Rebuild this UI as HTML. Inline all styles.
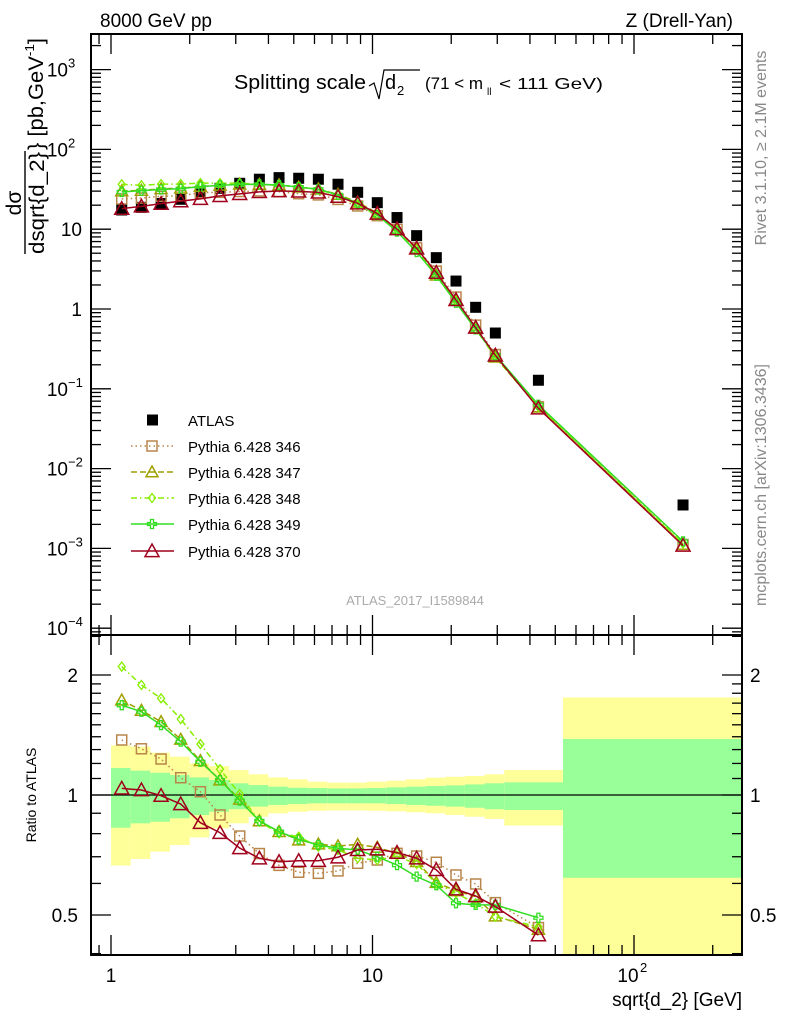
<!DOCTYPE html>
<html><head><meta charset="utf-8"><style>
body{margin:0;background:#fff}
svg{display:block;font-family:"Liberation Sans",sans-serif}
</style></head><body>
<svg id="c" width="786" height="1024" viewBox="0 0 786 1024" xmlns="http://www.w3.org/2000/svg">
<text x="100" y="27" font-size="19">8000 GeV pp</text>
<text x="733" y="27" font-size="19" text-anchor="end">Z (Drell-Yan)</text>
<text transform="translate(766,148) rotate(-90)" font-size="16" fill="#888" text-anchor="middle">Rivet 3.1.10, ≥ 2.1M events</text>
<text transform="translate(766,485) rotate(-90)" font-size="16" fill="#888" text-anchor="middle">mcplots.cern.ch [arXiv:1306.3436]</text>
<g>
<text x="234" y="89" font-size="20" textLength="132" lengthAdjust="spacingAndGlyphs">Splitting scale</text>
<path d="M369,86 L374,83 L379,99 L384,70 L420,70" fill="none" stroke="#000" stroke-width="1.2"/>
<text x="385" y="89" font-size="20">d</text><text x="397" y="95" font-size="13">2</text>
<text x="425" y="89" font-size="17" textLength="58" lengthAdjust="spacingAndGlyphs">(71 &lt; m</text><text x="487" y="95" font-size="10">ll</text><text x="499" y="89" font-size="16" textLength="104" lengthAdjust="spacingAndGlyphs">&lt; 111 GeV)</text>
</g>
<g transform="translate(25,0) rotate(-90)">
<text x="-203" y="-4" font-size="21" text-anchor="middle">dσ</text>
<line x1="-254" y1="0" x2="-151" y2="0" stroke="#000" stroke-width="1.4"/>
<text x="-203" y="19" font-size="21" text-anchor="middle" textLength="102" lengthAdjust="spacingAndGlyphs">dsqrt{d_2}</text>
<text x="-150" y="18" font-size="21" textLength="112" lengthAdjust="spacingAndGlyphs">} [pb,GeV<tspan font-size="13" dy="-9">-1</tspan><tspan dy="9">]</tspan></text>
</g>
<text transform="translate(36,795) rotate(-90)" font-size="14" text-anchor="middle">Ratio to ATLAS</text>
<text x="742" y="1006" font-size="19" text-anchor="end">sqrt{d_2} [GeV]</text>
<text x="415" y="605" font-size="13" fill="#aaa" text-anchor="middle">ATLAS_2017_I1589844</text>
<g id="main"></g><g id="ratio"></g><g id="legend"></g>
</svg>
<script>
const xVals=[1.099,1.307,1.554,1.848,2.197,2.612,3.106,3.693,4.391,5.221,6.208,7.381,8.776,10.43,12.41,14.75,17.54,20.86,24.8,29.5,43.1,154];
const binEdges=[1,1.189,1.414,1.681,1.999,2.376,2.825,3.359,3.994,4.749,5.647,6.714,7.983,9.492,11.29,13.42,15.96,18.97,22.56,26.82,31.89,53.5,300];
const atlasVals=[17.4,18.8,21,23.7,28.2,32.5,37.6,42.3,44.3,43.5,42.3,36.6,29,21.5,14,8.3,4.4,2.24,1.05,0.5,0.128,0.0035];
const r346=[1.374,1.306,1.231,1.105,1.019,0.891,0.789,0.713,0.666,0.640,0.636,0.645,0.674,0.687,0.714,0.703,0.678,0.630,0.598,0.537,0.465,0.32];
const r347=[1.73,1.63,1.527,1.379,1.219,1.09,0.975,0.861,0.809,0.771,0.753,0.745,0.752,0.739,0.714,0.680,0.603,0.575,0.556,0.497,0.460,0.32];
const r348=[2.10,1.888,1.748,1.551,1.342,1.16,1.006,0.857,0.801,0.786,0.742,0.728,0.694,0.687,0.703,0.671,0.600,0.567,0.535,0.495,0.467,0.33];
const r349=[1.68,1.618,1.498,1.361,1.212,1.09,0.968,0.861,0.809,0.774,0.749,0.735,0.728,0.700,0.667,0.624,0.594,0.535,0.530,0.530,0.492,0.35];
const r370=[1.039,1.029,0.996,0.949,0.852,0.804,0.736,0.694,0.680,0.684,0.684,0.698,0.728,0.731,0.717,0.694,0.649,0.580,0.558,0.525,0.445,0.31];
const yelHi=[1.332,1.322,1.277,1.248,1.201,1.182,1.155,1.127,1.107,1.095,1.080,1.074,1.074,1.080,1.086,1.095,1.105,1.111,1.116,1.127,1.155,1.757];
const yelLo=[0.665,0.691,0.721,0.749,0.783,0.825,0.849,0.882,0.900,0.908,0.913,0.915,0.915,0.913,0.910,0.905,0.900,0.891,0.882,0.871,0.838,0.3];
const grnHi=[1.169,1.151,1.137,1.122,1.107,1.090,1.070,1.059,1.049,1.043,1.041,1.039,1.039,1.041,1.045,1.049,1.053,1.057,1.063,1.070,1.076,1.382];
const grnLo=[0.828,0.849,0.857,0.874,0.891,0.908,0.921,0.935,0.944,0.949,0.953,0.953,0.953,0.953,0.949,0.944,0.940,0.935,0.929,0.921,0.917,0.620];
const ratioTickVals=[0.5,1,2];

const NS="http://www.w3.org/2000/svg";
const L=91,R=742,MT=34,MB=635,RB=955;
const X=v=>111+261.5*Math.log10(v);
const YM=v=>309-79.8*Math.log10(v);
const YR=v=>795-398.6*Math.log10(v);
function mk(p,t,a){const e=document.createElementNS(NS,t);for(const k in a)e.setAttribute(k,a[k]);p.appendChild(e);return e;}
const svg=document.getElementById('c');
const defs=mk(svg,'defs',{});
const c1=mk(defs,'clipPath',{id:'cm'});mk(c1,'rect',{x:L,y:MT,width:R-L,height:MB-MT});
const c2=mk(defs,'clipPath',{id:'cr'});mk(c2,'rect',{x:L,y:MB,width:R-L,height:RB-MB});
const gm=document.getElementById('main'),gr=document.getElementById('ratio');

const bandG=mk(gr,'g',{'clip-path':'url(#cr)'});


for(let i=0;i<xVals.length;i++){
  const x0=X(binEdges[i]),x1=X(binEdges[i+1]);
  const y=mk(bandG,'rect',{x:x0,y:YR(yelHi[i]),width:x1-x0,height:YR(yelLo[i])-YR(yelHi[i]),fill:'#ffff99'});
  
  
  const g=mk(bandG,'rect',{x:x0,y:YR(grnHi[i]),width:x1-x0,height:YR(grnLo[i])-YR(grnHi[i]),fill:'#99ff99'});
  
  
}
mk(gr,'line',{x1:L,y1:YR(1),x2:R,y2:YR(1),stroke:'#000','stroke-width':1.3});

const series=[
 {n:'Pythia 6.428 346',r:r346,c:'#b8864b',d:'1.5,3',m:'sq'},
 {n:'Pythia 6.428 347',r:r347,c:'#a0a000',d:'6,3',m:'tri'},
 {n:'Pythia 6.428 348',r:r348,c:'#88ee00',d:'6,3,1.5,3',m:'dia'},
 {n:'Pythia 6.428 349',r:r349,c:'#33dd22',d:'',m:'cross'},
 {n:'Pythia 6.428 370',r:r370,c:'#a0001c',d:'',m:'tri2'}];
function marker(p,m,x,y,c){
  let e;
  if(m==='sq')e=mk(p,'rect',{x:x-5,y:y-5,width:10,height:10,fill:'none',stroke:c,'stroke-width':1.5});
  else if(m==='tri'||m==='tri2'){const s=m==='tri2'?7:6;e=mk(p,'path',{d:`M${x},${y-s} L${x+s},${y+s*0.8} L${x-s},${y+s*0.8}Z`,fill:'none',stroke:c,'stroke-width':1.5});}
  else if(m==='dia')e=mk(p,'path',{d:`M${x},${y-4.5} L${x+3.5},${y} L${x},${y+4.5} L${x-3.5},${y}Z`,fill:'none',stroke:c,'stroke-width':1.3});
  else e=mk(p,'path',{d:`M${x-1.5},${y-4.5}h3v3h3v3h-3v3h-3v-3h-3v-3h3Z`,fill:'none',stroke:c,'stroke-width':1.3});
  
  
}
const ag=mk(gm,'g',{'clip-path':'url(#cm)'});


for(let i=0;i<xVals.length;i++){
  const p=mk(ag,'rect',{x:X(xVals[i])-5.5,y:YM(atlasVals[i])-5.5,width:11,height:11,fill:'#000'});
  
  
}
const rMin=Math.pow(10,(795-RB)/398.6);
series.forEach(s=>{
  const g1=mk(gm,'g',{'clip-path':'url(#cm)'});
  
  
  const pts=xVals.map((x,i)=>X(x)+','+YM(atlasVals[i]*s.r[i])).join(' ');
  mk(g1,'polyline',{points:pts,fill:'none',stroke:s.c,'stroke-width':1.5,'stroke-dasharray':s.d});
  xVals.forEach((x,i)=>marker(g1,s.m,X(x),YM(atlasVals[i]*s.r[i]),s.c));
  const g2=mk(gr,'g',{'clip-path':'url(#cr)'});
  
  
  const idx=xVals.map((x,i)=>i).filter(i=>s.r[i]>rMin);
  const p2=idx.map(i=>X(xVals[i])+','+YR(s.r[i])).join(' ');
  mk(g2,'polyline',{points:p2,fill:'none',stroke:s.c,'stroke-width':1.5,'stroke-dasharray':s.d});
  idx.forEach(i=>marker(g2,s.m,X(xVals[i]),YR(s.r[i]),s.c));
});
const f1=mk(svg,'rect',{x:L,y:MT,width:R-L,height:MB-MT,fill:'none',stroke:'#000','stroke-width':2});

const f2=mk(svg,'rect',{x:L,y:MB,width:R-L,height:RB-MB,fill:'none',stroke:'#000','stroke-width':2});

const ax=mk(svg,'g',{stroke:'#000','stroke-width':1.3});


for(let d=-1;d<=2;d++)for(let k=1;k<10;k++){
  const v=k*Math.pow(10,d),x=X(v);if(x<L||x>R)continue;
  const len=k===1?20:10;
  [[MT,1],[MB,-1],[MB,1],[RB,-1]].forEach(([y,s])=>mk(ax,'line',{x1:x,y1:y,x2:x,y2:y+s*len}));
}
for(let d=-5;d<=3;d++)for(let k=1;k<10;k++){
  const v=k*Math.pow(10,d),y=YM(v);if(y<MT||y>MB)continue;
  const len=k===1?20:10;
  mk(ax,'line',{x1:L,y1:y,x2:L+len,y2:y});mk(ax,'line',{x1:R,y1:y,x2:R-len,y2:y});
}
[0.4,0.5,0.6,0.7,0.8,0.9,1,1.1,1.2,1.3,1.4,1.5,1.6,1.7,1.8,1.9,2,2.5].forEach(v=>{
  const y=YR(v);if(y<MB||y>RB)return;const len=ratioTickVals.includes(v)?20:10;
  mk(ax,'line',{x1:L,y1:y,x2:L+len,y2:y});mk(ax,'line',{x1:R,y1:y,x2:R-len,y2:y});
});
const lab=mk(svg,'g',{'font-size':19});


const yl=[[3,'10','3'],[2,'10','2'],[1,'10',''],[0,'1',''],[-1,'10','−1'],[-2,'10','−2'],[-3,'10','−3'],[-4,'10','−4']];
yl.forEach(([e,b,s])=>{
  const y=YM(Math.pow(10,e))+7;
  const t=mk(lab,'text',{x:s?68:82,y:y,'text-anchor':'end'});t.textContent=b;
  if(s){const u=mk(lab,'text',{x:68,y:y-9,'font-size':13});u.textContent=s;}
});
ratioTickVals.forEach(v=>{
  const y=YR(v)+7;
  const a=mk(lab,'text',{x:78,y:y,'text-anchor':'end'});a.textContent=String(v);
  const b=mk(lab,'text',{x:750,y:y});b.textContent=String(v);
});
[[1,'1',''],[10,'10',''],[100,'10','2']].forEach(([v,b,s])=>{
  const t=mk(lab,'text',{x:X(v)-(s?6:0),y:982,'text-anchor':'middle'});t.textContent=b;
  if(s){const u=mk(lab,'text',{x:X(v)+6,y:972,'font-size':13});u.textContent=s;}
});
const lg=document.getElementById('legend');

const ly=[420,446,472,498,524,551];
const e0=mk(lg,'g',{});


mk(e0,'rect',{x:147,y:ly[0]-5.5,width:11,height:11,fill:'#000'});
const t0=mk(e0,'text',{x:188,y:ly[0]+6,'font-size':15});t0.textContent='ATLAS';
series.forEach((s,i)=>{
  const g=mk(lg,'g',{});
  
  
  const y=ly[i+1];
  mk(g,'line',{x1:131,y1:y,x2:174,y2:y,stroke:s.c,'stroke-width':1.5,'stroke-dasharray':s.d});
  marker(g,s.m,152,y,s.c);
  const t=mk(g,'text',{x:188,y:y+6,'font-size':15});t.textContent=s.n;
});
</script>
</body></html>
